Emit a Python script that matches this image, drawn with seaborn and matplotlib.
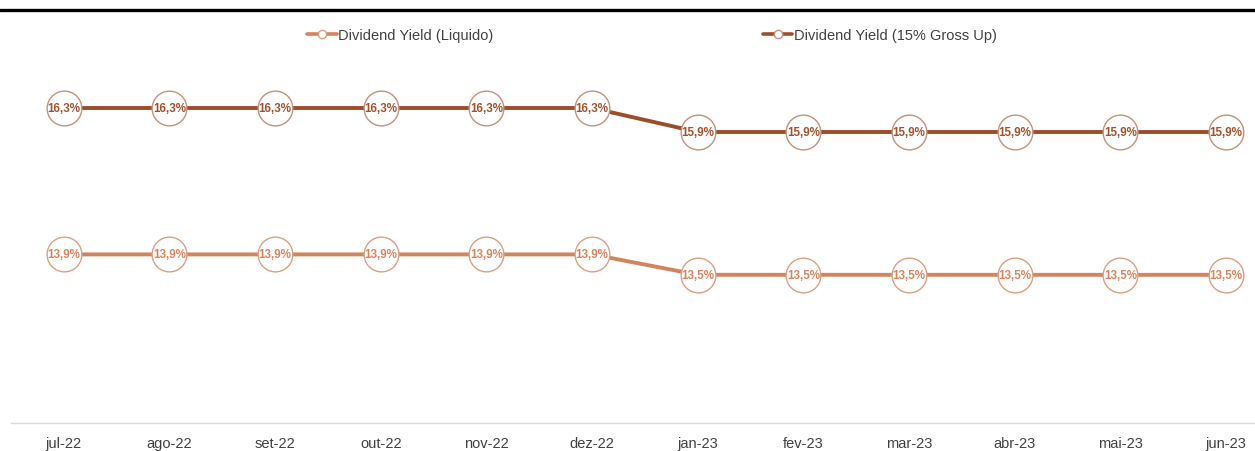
import matplotlib
matplotlib.use("Agg")
import matplotlib.pyplot as plt
import seaborn as sns
import pandas as pd
from matplotlib.lines import Line2D
from matplotlib import font_manager

months = ["jul-22", "ago-22", "set-22", "out-22", "nov-22", "dez-22",
          "jan-23", "fev-23", "mar-23", "abr-23", "mai-23", "jun-23"]
gross_up = [16.3, 16.3, 16.3, 16.3, 16.3, 16.3, 15.9, 15.9, 15.9, 15.9, 15.9, 15.9]
liquido = [13.86, 13.86, 13.86, 13.86, 13.86, 13.86, 13.52, 13.52, 13.52, 13.52, 13.52, 13.52]
series_names = ["Dividend Yield (Liquido)", "Dividend Yield (15% Gross Up)"]

sns.set_theme(style="white")
avail = {f.name for f in font_manager.fontManager.ttflist}
fam = "Liberation Sans Narrow" if "Liberation Sans Narrow" in avail else "Liberation Sans"
plt.rcParams["font.family"] = [fam, "DejaVu Sans"]

df = pd.DataFrame({"x": list(range(len(months))) * 2,
                   "value": liquido + gross_up,
                   "series": [series_names[0]] * len(months) + [series_names[1]] * len(months)})

fig = plt.figure(figsize=(12.55, 4.52), dpi=100)
ax = fig.add_axes([11 / 1255, 28 / 452, 1268 / 1255, 360 / 452])

line_colors = {series_names[0]: "#d4845c", series_names[1]: "#9c4e2b"}
edge_colors = {series_names[0]: "#d9a083", series_names[1]: "#c4917a"}
text_colors = {series_names[0]: "#d9845e", series_names[1]: "#a0522d"}

for name in series_names:
    sub = df[df["series"] == name]
    sns.lineplot(data=sub, x="x", y="value", ax=ax, color=line_colors[name],
                 linewidth=2.8, marker="o", markersize=25,
                 markerfacecolor="white", markeredgecolor=edge_colors[name],
                 markeredgewidth=1.0, legend=False, zorder=3)
    for xv, yv in zip(sub["x"], sub["value"]):
        ax.text(xv, yv, f"{yv:.1f}%".replace(".", ","), ha="center", va="center",
                fontsize=8.4, fontweight="bold", color=text_colors[name], zorder=5)

ax.set_xlim(-0.5, 11.5)
ax.set_ylim(11.05, 17.05)
ax.set_xticks(range(len(months)))
ax.set_xticklabels(months, fontsize=10.5, color="#404040")
ax.set_yticks([])
ax.set_xlabel("")
ax.set_ylabel("")
ax.tick_params(axis="x", length=0, pad=9.5)
for s in ["top", "right", "left"]:
    ax.spines[s].set_visible(False)
ax.spines["bottom"].set_color("#d9d9d9")
ax.spines["bottom"].set_linewidth(1.0)

# top rule line
fig.add_artist(Line2D([0, 1], [1 - 10.5 / 452, 1 - 10.5 / 452], color="black", linewidth=2.4,
                      transform=fig.transFigure))

handles = [Line2D([0], [0], color=line_colors[n], linewidth=2.6, marker="o", markersize=6,
                  markerfacecolor="white", markeredgecolor=edge_colors[n], markeredgewidth=1.0)
           for n in series_names]
fig.legend(handles, series_names, loc="center", bbox_to_anchor=(652 / 1255, 1 - 36 / 452),
           ncol=2, frameon=False, fontsize=10.5, labelcolor="#404040",
           handlelength=2.0, handletextpad=0.1, columnspacing=18.5)

fig.savefig("out.png", dpi=100)
